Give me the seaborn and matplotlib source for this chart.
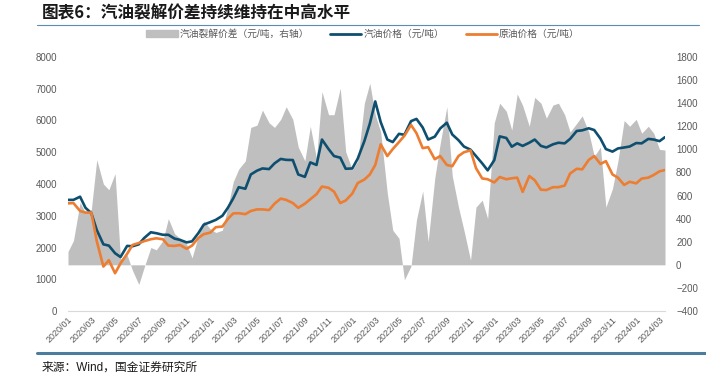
import numpy as np
import pandas as pd
import seaborn as sns
import matplotlib.pyplot as plt
import matplotlib.dates as mdates
from matplotlib.patches import Patch
from matplotlib.lines import Line2D

sns.set_theme(style="white")
plt.rcParams["font.family"] = ["Liberation Sans", "Noto Sans CJK SC"]

# semi-monthly readings, 2020-01-01 .. 2024-03-15
dates = pd.date_range("2020-01-01", periods=102, freq="SMS")

gasoline = [
    3500, 3500, 3600, 3250, 3080, 2550, 2100, 2060, 1820, 1700,
    2050, 2040, 2100, 2300, 2480, 2450, 2400, 2400, 2280, 2240,
    2160, 2195, 2450, 2720, 2800, 2870, 3000, 3250, 3550, 3900,
    3850, 4300, 4420, 4490, 4470, 4650, 4790, 4760, 4755, 4300,
    4225, 4680, 4600, 5400, 5100, 4880, 4830, 4480, 4490, 4800,
    5350, 5900, 6600, 5950, 5400, 5320, 5580, 5550, 5980, 6050,
    5780, 5400, 5490, 5750, 5930, 5560, 5380, 5180, 5080, 4880,
    4650, 4430, 4750, 5500, 5450, 5175, 5280, 5200, 5300, 5400,
    5200, 5150, 5250, 5300, 5280, 5420, 5670, 5690, 5755, 5700,
    5430, 5100, 5020, 5120, 5150, 5180, 5290, 5280, 5420, 5400,
    5350, 5475,
]

crude = [
    3390, 3400, 3150, 3100, 3100, 2200, 1400, 1600, 1190, 1500,
    1800, 2080, 2140, 2200, 2260, 2290, 2260, 2060, 2050, 2080,
    1960, 2060, 2300, 2420, 2470, 2640, 2660, 2900, 3075, 3080,
    3050, 3150, 3200, 3200, 3180, 3380, 3540, 3500, 3400, 3250,
    3380, 3520, 3680, 3920, 3880, 3760, 3400, 3480, 3700, 4030,
    4140, 4300, 4600, 5250, 4880, 5100, 5320, 5520, 5860, 5600,
    5130, 5160, 4780, 4880, 4600, 4560, 4880, 5000, 5060, 4500,
    4175, 4150, 4050, 4220, 4150, 4180, 4200, 3750, 4250, 4120,
    3820, 3810, 3900, 3900, 3950, 4330, 4480, 4460, 4760, 4880,
    4630, 4720, 4300, 4200, 3970, 4070, 4020, 4170, 4200, 4285,
    4400, 4440,
]

spread = [
    115, 210, 540, 450, 480, 910, 700, 650, 790, 50,
    85, -50, -170, -20, 150, 130, 210, 400, 270, 229,
    180, 60, 250, 380, 310, 280, 300, 500, 720, 830,
    900, 1190, 1210, 1340, 1230, 1190, 1260, 1369, 1260, 1020,
    900, 1200, 920, 1500, 1300, 1300, 1530, 980, 821, 900,
    1400, 1572, 1300, 1150, 620, 300, 230, -130, -10, 390,
    640, 200, 750, 1050, 1369, 770, 500, 300, 40, 500,
    560, 400, 1230, 1400, 1330, 1167, 1480, 1380, 1200, 1450,
    1400, 1270, 1384, 1400, 1300, 1150, 1225, 1290, 1150, 940,
    1020, 500, 660, 900, 1250, 1200, 1260, 1140, 1200, 1140,
    1000, 994,
]

lbl_spread = "汽油裂解价差（元/吨，右轴）"
lbl_gas = "汽油价格（元/吨）"
lbl_crude = "原油价格（元/吨）"

df = pd.DataFrame({"date": dates, "gasoline": gasoline,
                   "crude": crude, "spread": spread})

c_grey = "#bfbfbf"
c_blue = "#0e4f70"
c_orange = "#ed7d31"
c_tick = "#595959"

fig = plt.figure(figsize=(7.06, 3.8), dpi=100)
ax = fig.add_axes([68 / 706, 1 - 311 / 380, (665 - 68) / 706, (311 - 57) / 380])
ax2 = ax.twinx()

# spread area on the right axis, kept behind the price lines
ax2.fill_between(df["date"], 0, df["spread"], color=c_grey, lw=0)
sns.lineplot(data=df, x="date", y="gasoline", color=c_blue, lw=1.9, ax=ax)
sns.lineplot(data=df, x="date", y="crude", color=c_orange, lw=1.9, ax=ax)
ax.set_zorder(ax2.get_zorder() + 1)
ax.patch.set_visible(False)

ax.set_xlim(dates[0], dates[-1])
ax.set_ylim(0, 8000)
ax.set_yticks(range(0, 8001, 1000))
ax2.set_ylim(-400, 1800)
ax2.set_yticks(range(-400, 1801, 200))
ax.set_xlabel("")
ax.set_ylabel("")

ax.xaxis.set_major_locator(mdates.MonthLocator(bymonth=[1, 3, 5, 7, 9, 11]))
ax.xaxis.set_major_formatter(mdates.DateFormatter("%Y/%m"))
ax.tick_params(axis="x", direction="in", length=3, color="#d9d9d9",
               labelsize=6.5, labelcolor=c_tick, pad=3)
ax.tick_params(axis="y", length=0, labelsize=7, labelcolor=c_tick, pad=8)
ax2.tick_params(axis="y", length=0, labelsize=7, labelcolor=c_tick, pad=8)
for t in ax.get_xticklabels():
    t.set_rotation(45)
    t.set_ha("right")
    t.set_rotation_mode("anchor")

for s in ax.spines.values():
    s.set_visible(False)
for s in ax2.spines.values():
    s.set_visible(False)
ax.spines["bottom"].set_visible(True)
ax.spines["bottom"].set_color("#d9d9d9")
ax.spines["bottom"].set_linewidth(0.8)

handles = [Patch(color=c_grey), Line2D([], [], color=c_blue, lw=2),
           Line2D([], [], color=c_orange, lw=2)]
fig.legend(handles, [lbl_spread, lbl_gas, lbl_crude], loc="center",
           bbox_to_anchor=(0.514, 0.91), ncol=3, frameon=False, fontsize=7,
           handlelength=3.2, handletextpad=0.2, columnspacing=2.2,
           labelcolor=c_tick)

fig.text(42 / 706, 1 - 14 / 380, "图表6：汽油裂解价差持续维持在中高水平",
         fontsize=12, fontweight="bold", va="center", color="#1a1a1a",
         family=["Noto Sans CJK SC", "DejaVu Sans"])
fig.add_artist(Line2D([37 / 706, 699 / 706], [1 - 25 / 380] * 2,
                      color="#5b8db0", lw=0.8))
fig.add_artist(Line2D([37 / 706, 1.0], [1 - 353 / 380] * 2,
                      color="#4d7d9c", lw=2.2))
fig.text(42 / 706, 1 - 368 / 380, "来源：Wind，国金证券研究所",
         fontsize=8.5, va="center", color="#1a1a1a")

fig.savefig("out.png", dpi=100)
